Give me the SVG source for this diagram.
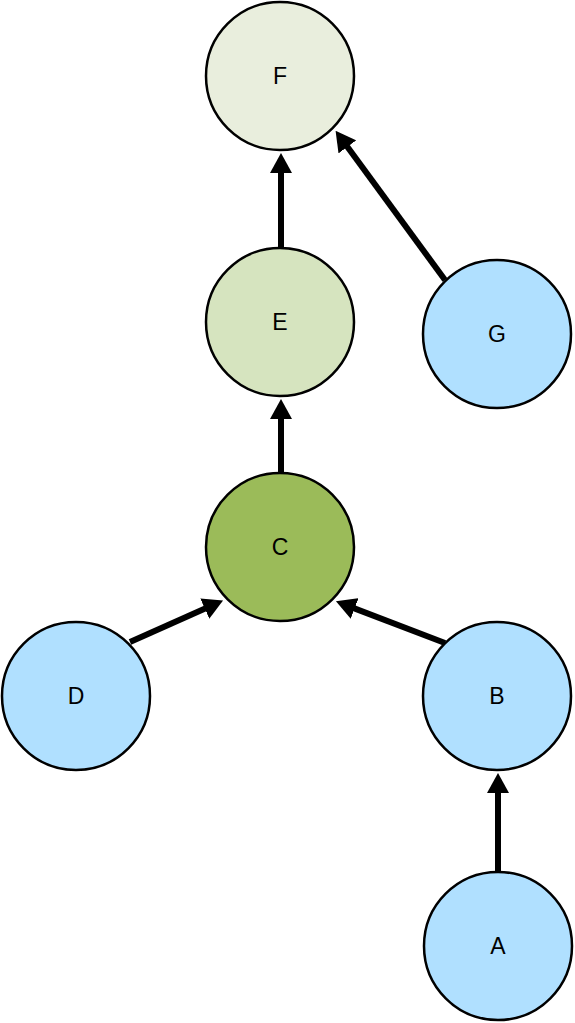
<svg xmlns="http://www.w3.org/2000/svg" width="575" height="1023" viewBox="0 0 575 1023">
<style>
.n{stroke:#000;stroke-width:2.5}
.t{font-family:"Liberation Sans",Arial,sans-serif;font-size:23px;text-anchor:middle;dominant-baseline:central;fill:#000}
.e{stroke:#000;stroke-width:6;fill:none}
.blue{fill:#b0e0ff}
</style>
<defs>
<marker id="ah" markerUnits="userSpaceOnUse" markerWidth="20" markerHeight="22" viewBox="0 0 20 22" refX="1" refY="11" orient="auto">
<path d="M0,0 L20,11 L0,22 z" fill="#000"/>
</marker>
</defs>
<g id="connectors">
<line class="e" x1="281" y1="247" x2="281" y2="172" marker-end="url(#ah)"/>
<line class="e" x1="281" y1="472" x2="281" y2="418" marker-end="url(#ah)"/>
<line class="e" x1="498" y1="872" x2="498" y2="792" marker-end="url(#ah)"/>
<line class="e" x1="445" y1="280" x2="346.8" y2="146.1" marker-end="url(#ah)"/>
<line class="e" x1="130" y1="642" x2="205.7" y2="608.2" marker-end="url(#ah)"/>
<line class="e" x1="445" y1="643" x2="353.7" y2="608.1" marker-end="url(#ah)"/>
</g>
<g id="F"><circle class="n" cx="280" cy="76" r="74" fill="#e9eedd"/><text class="t" x="280" y="76">F</text></g>
<g id="E"><circle class="n" cx="280" cy="322" r="74" fill="#d6e4bf"/><text class="t" x="280" y="322">E</text></g>
<g id="G"><circle class="n blue" cx="497" cy="334" r="74"/><text class="t" x="497" y="334">G</text></g>
<g id="C"><circle class="n" cx="280" cy="547" r="74" fill="#9bbb59"/><text class="t" x="280" y="547">C</text></g>
<g id="D"><circle class="n blue" cx="76" cy="696" r="74"/><text class="t" x="76" y="696">D</text></g>
<g id="B"><circle class="n blue" cx="497" cy="696" r="74"/><text class="t" x="497" y="696">B</text></g>
<g id="A"><circle class="n blue" cx="498" cy="946" r="74"/><text class="t" x="498" y="946">A</text></g>
</svg>
